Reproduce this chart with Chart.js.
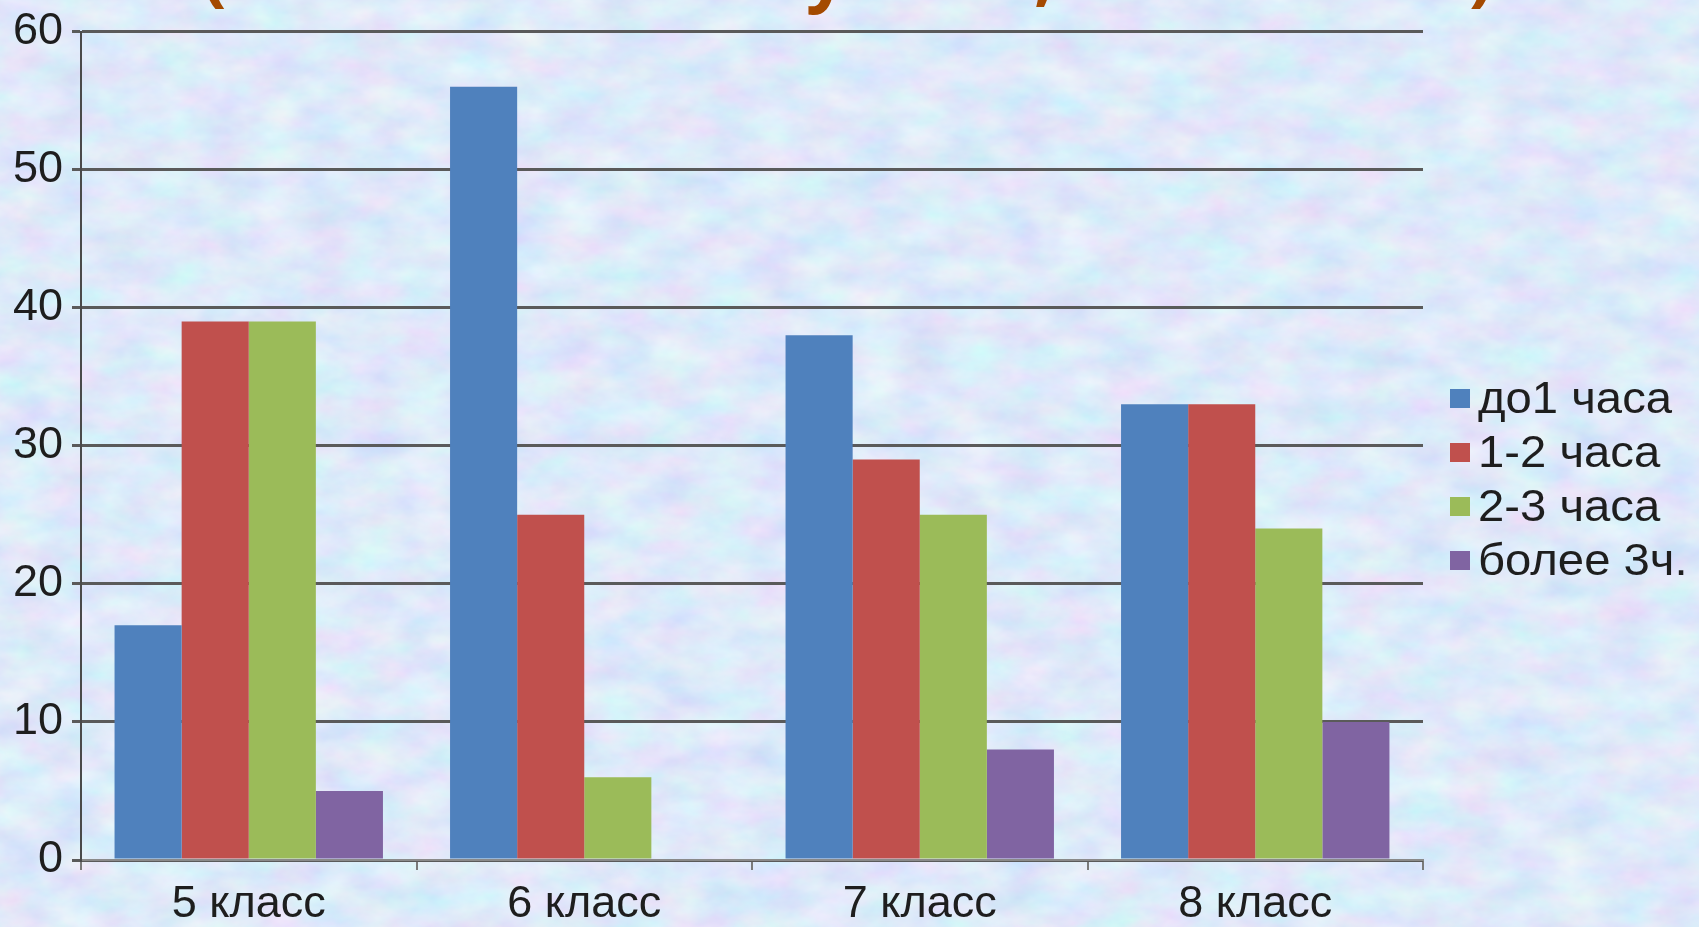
<!DOCTYPE html>
<html>
<head>
<meta charset="utf-8">
<script src="https://cdn.jsdelivr.net/npm/chart.js@4/dist/chart.umd.min.js"></script>
<style>
  html, body { margin:0; padding:0; width:1699px; height:927px; overflow:hidden; }
  body {
    background-color:#c0d7f0;
    background-image:url("data:image/svg+xml;utf8,<svg xmlns='http://www.w3.org/2000/svg' width='1699' height='927'><filter id='n' x='0' y='0' width='100%' height='100%'><feTurbulence type='fractalNoise' baseFrequency='0.02 0.035' numOctaves='4' seed='7'/><feColorMatrix values='0.36 0 0 0 0.55  0 0.30 0 0 0.67  0 0 0.10 0 0.90  0 0 0 0 1'/></filter><rect width='1699' height='927' filter='url(%23n)'/></svg>");
    position:relative;
  }
  #wrap { position:absolute; left:0; top:0; width:1699px; height:927px; }
  #legend { position:absolute; left:1450px; top:371px; font-family:"Liberation Sans", Arial, sans-serif; font-size:45px; color:#1e1e1e; }
  .row { height:54px; display:flex; align-items:center; white-space:nowrap; }
  .sw { width:20px; height:19px; margin-right:8px; flex:none; }
  .tx { display:inline-block; transform:scaleX(1.05); transform-origin:left center; }
</style>
</head>
<body>
<div id="wrap"><canvas id="c" width="1699" height="927"></canvas></div>
<div id="legend"></div>
<script>
const categories = ["5 класс", "6 класс", "7 класс", "8 класс"];
const seriesNames = ["до1 часа", "1-2 часа", "2-3 часа", "более 3ч."];
const upTo1h   = [17, 56, 38, 33];
const h1to2    = [39, 25, 29, 33];
const h2to3    = [39, 6, 25, 24];
const over3h   = [5, 0, 8, 10];
const seriesColors = ["#4f81bd", "#c0504d", "#9bbb59", "#8064a2"];
const yTicks = [0, 10, 20, 30, 40, 50, 60];
// visible lower fragments of the cut-off title line
const titleFragments = [
  { text: "(", x: 202 },
  { text: "у", x: 806 },
  { text: ",", x: 1034 },
  { text: ")", x: 1469 }
];

const values = [upTo1h, h1to2, h2to3, over3h];
const datasets = seriesNames.map((name, i) => ({
  label: name,
  data: values[i],
  backgroundColor: seriesColors[i],
  borderWidth: 0,
  categoryPercentage: 0.8,
  barPercentage: 1.0
}));

const titlePlugin = {
  id: 'titleFragments',
  afterDraw(chart) {
    const ctx = chart.ctx;
    ctx.save();
    ctx.fillStyle = '#a44a00';
    ctx.font = 'bold 72px "Open Sans"';
    ctx.textBaseline = 'alphabetic';
    ctx.textAlign = 'left';
    titleFragments.forEach(f => ctx.fillText(f.text, f.x, -2));
    ctx.restore();
  }
};

const font = { family: '"Liberation Sans", Arial, sans-serif', size: 45, lineHeight: 1.0 };

const chart = new Chart(document.getElementById('c'), {
  type: 'bar',
  data: { labels: categories, datasets },
  options: {
    responsive: false,
    animation: false,
    devicePixelRatio: 1,
    layout: { padding: { top: 22, right: 276, left: 0, bottom: 0 } },
    plugins: { legend: { display: false }, tooltip: { enabled: false } },
    scales: {
      x: {
        offset: true,
        grid: { display: true, drawOnChartArea: false, drawTicks: true, tickLength: 10, offset: true, color: '#7a7a7a', lineWidth: 2 },
        border: { display: true, color: '#8a8a8a', width: 2 },
        ticks: { font, color: '#1e1e1e', padding: 12 },
        afterFit(scale) { scale.height = 67; }
      },
      y: {
        min: 0, max: 60,
        afterBuildTicks(scale) { scale.ticks = yTicks.map(v => ({ value: v })); },
        grid: { color: '#5a5a5a', lineWidth: 3, drawTicks: true, tickLength: 9 },
        border: { display: true, color: '#4a4a4a', width: 2 },
        ticks: { font, color: '#1e1e1e', padding: 9 },
        afterFit(scale) { scale.width = 81; }
      }
    }
  },
  plugins: [titlePlugin]
});

const legend = document.getElementById('legend');
chart.data.datasets.forEach(ds => {
  const row = document.createElement('div');
  row.className = 'row';
  const sw = document.createElement('span');
  sw.className = 'sw';
  sw.style.background = ds.backgroundColor;
  const t = document.createElement('span');
  t.className = 'tx';
  t.textContent = ds.label;
  row.appendChild(sw); row.appendChild(t);
  legend.appendChild(row);
});
</script>
</body>
</html>
